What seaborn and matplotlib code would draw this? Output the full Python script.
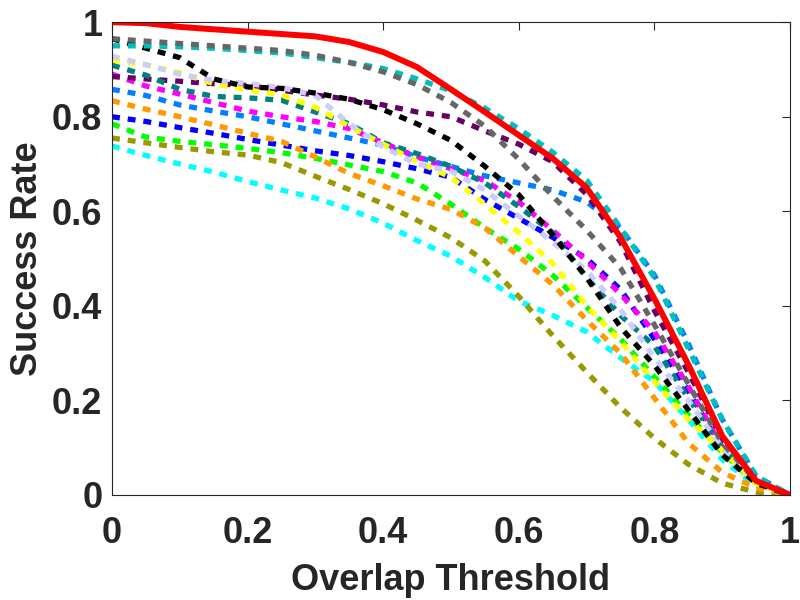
import numpy as np
import matplotlib
matplotlib.use("Agg")
import matplotlib.pyplot as plt
import seaborn as sns

# overlap thresholds (x axis)
thresholds = [0.0, 0.05, 0.1, 0.15, 0.2, 0.25, 0.3, 0.35, 0.4, 0.45, 0.5,
              0.55, 0.6, 0.65, 0.7, 0.75, 0.8, 0.85, 0.9, 0.95, 1.0]

# success rates, one list per tracker
gray = [0.965, 0.96, 0.955, 0.95, 0.945, 0.94, 0.93, 0.915, 0.895, 0.868, 0.83,
        0.78, 0.71, 0.632, 0.56, 0.48, 0.36, 0.235, 0.11, 0.03, 0.0]
darkcyan = [0.95, 0.95, 0.948, 0.945, 0.94, 0.935, 0.925, 0.915, 0.902, 0.88, 0.855,
            0.818, 0.775, 0.725, 0.666, 0.565, 0.46, 0.31, 0.16, 0.04, 0.0]
black = [0.965, 0.945, 0.925, 0.88, 0.863, 0.86, 0.85, 0.837, 0.815, 0.785, 0.75,
         0.695, 0.635, 0.55, 0.46, 0.355, 0.274, 0.18, 0.085, 0.025, 0.0]
purple = [0.885, 0.88, 0.875, 0.87, 0.866, 0.856, 0.846, 0.837, 0.825, 0.81, 0.80,
          0.77, 0.742, 0.705, 0.636, 0.535, 0.39, 0.26, 0.12, 0.03, 0.0]
lavender = [0.928, 0.91, 0.89, 0.877, 0.87, 0.862, 0.845, 0.785, 0.736, 0.70, 0.685,
            0.645, 0.59, 0.535, 0.475, 0.392, 0.29, 0.20, 0.10, 0.03, 0.0]
yellow = [0.92, 0.91, 0.893, 0.87, 0.857, 0.846, 0.82, 0.78, 0.742, 0.705, 0.672,
          0.615, 0.555, 0.49, 0.40, 0.325, 0.24, 0.16, 0.095, 0.025, 0.0]
teal = [0.909, 0.888, 0.858, 0.843, 0.84, 0.835, 0.81, 0.785, 0.745, 0.722, 0.695,
        0.66, 0.61, 0.555, 0.46, 0.38, 0.315, 0.205, 0.10, 0.03, 0.0]
magenta = [0.89, 0.865, 0.848, 0.83, 0.812, 0.80, 0.79, 0.775, 0.745, 0.715, 0.69,
           0.665, 0.62, 0.56, 0.495, 0.425, 0.345, 0.23, 0.10, 0.03, 0.0]
lightblue = [0.858, 0.845, 0.825, 0.812, 0.80, 0.785, 0.77, 0.755, 0.74, 0.715, 0.695,
             0.675, 0.66, 0.645, 0.62, 0.565, 0.465, 0.32, 0.16, 0.04, 0.0]
orange = [0.834, 0.816, 0.80, 0.783, 0.765, 0.748, 0.715, 0.68, 0.654, 0.626, 0.604,
          0.565, 0.505, 0.445, 0.37, 0.30, 0.205, 0.11, 0.048, 0.015, 0.0]
blue = [0.80, 0.79, 0.777, 0.765, 0.752, 0.74, 0.728, 0.718, 0.705, 0.69, 0.672,
        0.625, 0.585, 0.545, 0.50, 0.435, 0.33, 0.22, 0.10, 0.03, 0.0]
green = [0.785, 0.757, 0.748, 0.741, 0.733, 0.724, 0.712, 0.698, 0.684, 0.66, 0.615,
         0.565, 0.52, 0.465, 0.397, 0.33, 0.25, 0.17, 0.09, 0.025, 0.0]
olive = [0.755, 0.745, 0.735, 0.726, 0.719, 0.703, 0.674, 0.646, 0.616, 0.581, 0.544,
         0.495, 0.42, 0.337, 0.26, 0.185, 0.12, 0.065, 0.025, 0.006, 0.0]
cyan = [0.738, 0.718, 0.70, 0.683, 0.663, 0.645, 0.628, 0.605, 0.575, 0.538, 0.505,
        0.46, 0.41, 0.38, 0.345, 0.29, 0.24, 0.16, 0.075, 0.02, 0.0]
red = [1.0, 0.998, 0.99, 0.985, 0.98, 0.975, 0.97, 0.958, 0.937, 0.905, 0.858,
       0.81, 0.761, 0.712, 0.65, 0.545, 0.415, 0.276, 0.125, 0.03, 0.0]

dotted = [
    (cyan, "#00FFFF"), (olive, "#999900"), (green, "#00FF00"), (blue, "#0000FF"),
    (orange, "#FF9900"), (lightblue, "#0080FF"), (magenta, "#FF00FF"),
    (purple, "#660066"), (teal, "#008080"), (yellow, "#FFFF00"),
    (lavender, "#CCCCFF"), (black, "#000000"), (darkcyan, "#00BFBF"), (gray, "#666666"),
]

sns.set_style("white")
plt.rcParams["font.family"] = ["Liberation Sans", "DejaVu Sans"]
plt.rcParams["font.weight"] = "bold"
plt.rcParams["axes.labelweight"] = "bold"

fig = plt.figure(figsize=(8, 6), dpi=100)
ax = fig.add_axes([0.14, 0.175, 0.8475, 0.788])

for vals, col in dotted:
    sns.lineplot(x=thresholds, y=vals, color=col, lw=3.8,
                 linestyle=(0, (1.5, 1.5)), ax=ax)
sns.lineplot(x=thresholds, y=red, color="#FF0000", lw=4.3, ax=ax)

ax.set_xlim(0, 1)
ax.set_ylim(0, 1)
ticks = [0, 0.2, 0.4, 0.6, 0.8, 1]
tick_labels = ["0", "0.2", "0.4", "0.6", "0.8", "1"]
ax.set_xticks(ticks)
ax.set_xticklabels(tick_labels)
ax.set_yticks(ticks)
ax.set_yticklabels(tick_labels)
ax.tick_params(direction="in", length=6, width=0.8, colors="#262626",
               labelsize=26, top=True, right=True)
ax.tick_params(axis="x", pad=15)
ax.tick_params(axis="y", pad=7)
for s in ax.spines.values():
    s.set_visible(True)
    s.set_color("#262626")
    s.set_linewidth(0.8)

ax.set_xlabel("Overlap Threshold", fontsize=26, color="#262626", labelpad=9)
ax.set_ylabel("Success Rate", fontsize=26, color="#262626", labelpad=5)

fig.savefig("out.png", dpi=100)
